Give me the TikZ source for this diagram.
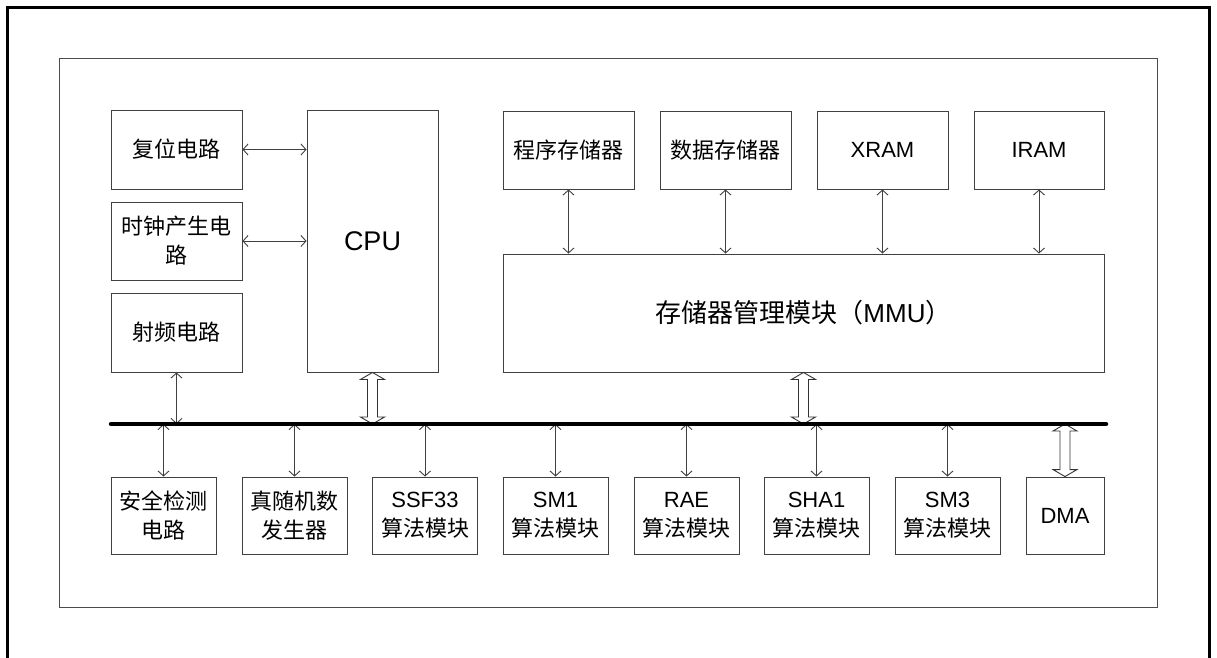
\documentclass[tikz,border=0pt]{standalone}
\usepackage{fontspec}
\setmainfont{Liberation Sans}
\newfontfamily\cjk{Noto Sans CJK SC}
\usetikzlibrary{arrows.meta,calc}
\tikzset{
  box/.style={draw=black!75, line width=0.9pt, inner sep=0pt, align=center, fill=white,
    font=\fontsize{22}{29}\selectfont},
  conn/.style={draw=black!75, line width=0.9pt,
    {Straight Barb[length=5pt,width=11pt]}-{Straight Barb[length=5pt,width=11pt]}},
  hollow/.style={draw=black!80, line width=0.9pt, fill=white, line join=miter},
  busline/.style={line width=4.5pt, line cap=round, draw=black},
  frameline/.style={draw=black!70, line width=1pt},
  outerline/.style={draw=black, line width=3pt}
}
\newcommand\hollowarrow[2]{%
  \draw[hollow] let \p1=#1, \p2=#2 in
  (\x1-5pt,\y1-7pt) -- (\x1-12pt,\y1-7pt) -- (\x1,\y1) -- (\x1+12pt,\y1-7pt) -- (\x1+5pt,\y1-7pt)
  -- (\x1+5pt,\y2+7pt) -- (\x1+12pt,\y2+7pt) -- (\x1,\y2) -- (\x1-12pt,\y2+7pt) -- (\x1-5pt,\y2+7pt) -- cycle;}
\begin{document}
\begin{tikzpicture}[x=1pt,y=-1pt]
\useasboundingbox (0,0) rectangle (1217,657);
\clip (0,0) rectangle (1217,657);
\fill[white] (0,0) rectangle (1217,657);
% frames
\draw[outerline] (7,7) rectangle (1209,720);
\draw[frameline] (59,58) rectangle (1157,607);
% left column
\node[box, minimum width=131pt, minimum height=79pt] (reset) at (176.5,149.5) {\cjk 复位电路};
\node[box, minimum width=131pt, minimum height=78pt] (clock) at (176.5,241) {\cjk 时钟产生电\\\cjk 路};
\node[box, minimum width=131pt, minimum height=79pt] (rf) at (176.5,332.5) {\cjk 射频电路};
\node[box, minimum width=131pt, minimum height=262pt, font=\fontsize{27}{32}\selectfont] (cpu) at (372.5,241) {CPU};
% memories
\node[box, minimum width=131pt, minimum height=78pt] (prog) at (568.5,150) {\cjk 程序存储器};
\node[box, minimum width=131pt, minimum height=78pt] (data) at (725.5,150) {\cjk 数据存储器};
\node[box, minimum width=131pt, minimum height=78pt] (xram) at (882.5,150) {XRAM};
\node[box, minimum width=130pt, minimum height=78pt] (iram) at (1039,150) {IRAM};
\node[box, minimum width=601pt, minimum height=118pt, font=\fontsize{26}{30}\selectfont] (mmu) at (803.5,313) {{\cjk 存储器管理模块（}MMU{\cjk ）}};
% bottom row
\node[box, minimum width=105pt, minimum height=77pt] (sec) at (163.5,515.5) {\cjk 安全检测\\\cjk 电路};
\node[box, minimum width=105pt, minimum height=77pt] (trng) at (294.5,515.5) {\cjk 真随机数\\\cjk 发生器};
\node[box, minimum width=105pt, minimum height=77pt] (ssf) at (425,515.5) {SSF33\\\cjk 算法模块};
\node[box, minimum width=105pt, minimum height=77pt] (smone) at (555.5,515.5) {SM1\\\cjk 算法模块};
\node[box, minimum width=105pt, minimum height=77pt] (rae) at (686.5,515.5) {RAE\\\cjk 算法模块};
\node[box, minimum width=105pt, minimum height=77pt] (sha) at (816.5,515.5) {SHA1\\\cjk 算法模块};
\node[box, minimum width=105pt, minimum height=77pt] (smthree) at (947.5,515.5) {SM3\\\cjk 算法模块};
\node[box, minimum width=78pt, minimum height=77pt] (dma) at (1065,515.5) {DMA};
% bus
\coordinate (busL) at (111,424);
\coordinate (busR) at (1106,424);
% connectors
\draw[conn] (reset.east) -- (reset.east -| cpu.west);
\draw[conn] (clock.east) -- (clock.east -| cpu.west);
\foreach \m in {prog,data,xram,iram}
  \draw[conn] (\m.south) -- (\m.south |- mmu.north);
\draw[conn] (rf.south) -- (rf.south |- busL);
\foreach \m in {sec,trng,ssf,smone,rae,sha,smthree}
  \draw[conn] (\m.north |- busL) -- (\m.north);
\hollowarrow{(cpu.south)}{(cpu.south |- busL)}
\hollowarrow{(mmu.south)}{(mmu.south |- busL)}
\hollowarrow{(dma.north |- busL)}{(dma.north)}
\draw[busline] (busL) -- (busR);
\end{tikzpicture}
\end{document}
